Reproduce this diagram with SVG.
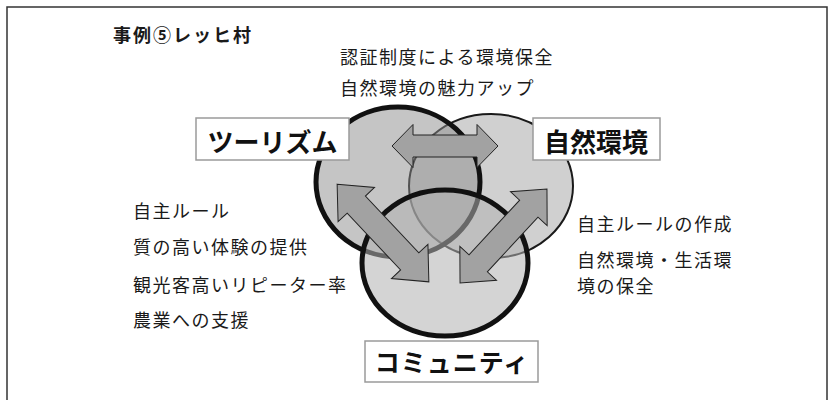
<svg xmlns="http://www.w3.org/2000/svg" width="828" height="400" viewBox="0 0 828 400">
<style>
.t{font-family:"Noto Sans CJK JP","Noto Sans CJK SC",sans-serif;font-size:18px;fill:#1a1a1a;letter-spacing:1.5px}
.h{font-family:"Noto Sans CJK JP","Noto Sans CJK SC",sans-serif;font-size:26px;font-weight:bold;fill:#111;text-anchor:middle}
.box{fill:#fff;stroke:#9a9a9a;stroke-width:1.5}
.arrow{fill:#a2a2a2;stroke:#222;stroke-width:1}
</style>
<defs>
<polygon id="diag" points="-67,0 -39,-25 -39,-12.5 39,-12.5 39,-25 67,0 39,25 39,12.5 -39,12.5 -39,25"/>
</defs>
<rect x="7" y="7" width="820" height="400" fill="#fff" stroke="#333" stroke-width="1.5"/>
<text class="t" x="113" y="42" font-weight="bold" style="letter-spacing:2px">事例⑤レッヒ村</text>
<text class="t" x="340" y="64">認証制度による環境保全</text>
<text class="t" x="340" y="95">自然環境の魅力アップ</text>
<g id="nature-circle">
<ellipse cx="491" cy="186" rx="82" ry="72" fill="#d0d0d0" stroke="#1a1a1a" stroke-width="2"/>
</g>
<g id="tourism-circle">
<ellipse cx="398" cy="182" rx="82" ry="75" fill="#8c8c8c" fill-opacity="0.5" stroke="#111" stroke-width="5"/>
</g>
<g id="community-circle">
<ellipse cx="445" cy="263" rx="83" ry="73" fill="#b0b0b0" fill-opacity="0.55" stroke="#111" stroke-width="5"/>
</g>
<g id="connectors">
<polygon class="arrow" transform="translate(445,146)" points="-53,0 -32,-21.5 -32,-11 32,-11 32,-21.5 53,0 32,21.5 32,11 -32,11 -32,21.5"/>
<use href="#diag" class="arrow" transform="translate(383,233) rotate(46.8)"/>
<use href="#diag" class="arrow" transform="translate(503.5,236) rotate(-47.2) scale(0.955,1)"/>
</g>
<g id="tourism">
<rect class="box" x="196" y="118" width="153" height="42"/>
<text class="h" x="272.5" y="152">ツーリズム</text>
</g>
<g id="nature">
<rect class="box" x="533" y="118" width="127" height="42"/>
<text class="h" x="596" y="152">自然環境</text>
</g>
<g id="community">
<rect class="box" x="365" y="341" width="173" height="41"/>
<text class="h" x="452" y="372" style="font-size:25px;letter-spacing:1px">コミュニティ</text>
</g>
<g id="left-notes">
<text class="t" x="133" y="218">自主ルール</text>
<text class="t" x="133" y="254">質の高い体験の提供</text>
<text class="t" x="133" y="292">観光客高いリピーター率</text>
<text class="t" x="133" y="327">農業への支援</text>
</g>
<g id="right-notes">
<text class="t" x="577" y="231">自主ルールの作成</text>
<text class="t" x="577" y="267">自然環境・生活環</text>
<text class="t" x="577" y="293">境の保全</text>
</g>
</svg>
